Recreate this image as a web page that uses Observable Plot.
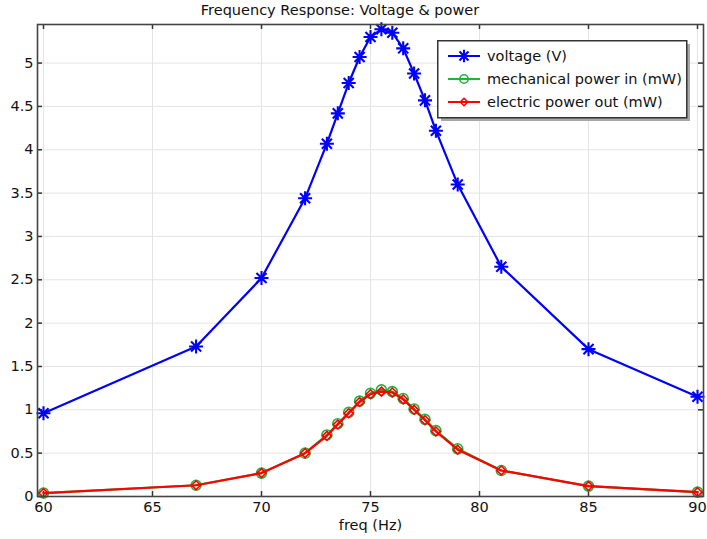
<!DOCTYPE html>
<html>
<head>
<meta charset="utf-8">
<script src="https://cdn.jsdelivr.net/npm/d3@7"></script>
<script src="https://cdn.jsdelivr.net/npm/@observablehq/plot@0.6"></script>
<style>
  html, body { margin: 0; padding: 0; background: #fff; }
  #wrap { position: relative; width: 707px; height: 539px; font-family: "DejaVu Sans", sans-serif; }
  #title { position: absolute; left: 0; top: 2px; width: 680px; text-align: center; font-size: 14.5px; color: #111; }
  #legend { position: absolute; left: 437px; top: 40px; }
</style>
</head>
<body>
<div id="wrap">
  <div id="chart"></div>
  <div id="title">Frequency Response: Voltage &amp; power</div>
  <div id="legend"></div>
</div>
<script>
const freq = [60, 67, 70, 72, 73, 73.5, 74, 74.5, 75, 75.5, 76, 76.5, 77, 77.5, 78, 79, 81, 85, 90];
const voltage = [0.96, 1.73, 2.52, 3.44, 4.07, 4.42, 4.77, 5.07, 5.30, 5.39, 5.35, 5.17, 4.88, 4.57, 4.22, 3.60, 2.65, 1.70, 1.15];
const mechPower = [0.04, 0.13, 0.27, 0.50, 0.71, 0.84, 0.97, 1.10, 1.19, 1.23, 1.21, 1.13, 1.01, 0.89, 0.76, 0.55, 0.30, 0.12, 0.05];
const elecPower = [0.04, 0.13, 0.27, 0.50, 0.70, 0.83, 0.96, 1.09, 1.18, 1.21, 1.20, 1.12, 1.00, 0.88, 0.75, 0.54, 0.30, 0.12, 0.05];
const xTicks = [60, 65, 70, 75, 80, 85, 90];
const yTicks = [0, 0.5, 1, 1.5, 2, 2.5, 3, 3.5, 4, 4.5, 5];
const seriesNames = ["voltage (V)", "mechanical power in (mW)", "electric power out (mW)"];
const colors = ["#0000ff", "#22b33a", "#ff0000"];

const W = 707, H = 539;
const mL = 37, mR = 4, mT = 24, mB = 43;
const innerH = H - mT - mB;
const innerW = W - mL - mR;
const FS = 14.5;

const star = {
  draw(ctx, size) {
    const r = Math.sqrt(size / Math.PI);
    const d = r * 0.72;
    ctx.moveTo(-r, 0); ctx.lineTo(r, 0);
    ctx.moveTo(0, -r); ctx.lineTo(0, r);
    ctx.moveTo(-d, -d); ctx.lineTo(d, d);
    ctx.moveTo(-d, d); ctx.lineTo(d, -d);
  }
};

const vData = freq.map((f, i) => ({f, v: voltage[i]}));
const mData = freq.map((f, i) => ({f, v: mechPower[i]}));
const eData = freq.map((f, i) => ({f, v: elecPower[i]}));

const chart = Plot.plot({
  width: W, height: H,
  marginLeft: mL, marginRight: mR, marginTop: mT, marginBottom: mB,
  style: {fontFamily: "DejaVu Sans, sans-serif", fontSize: FS + "px", color: "#111", background: "#fff"},
  x: {domain: [59.725, 90.275]},
  y: {domain: [0, 5.445]},
  marks: [
    Plot.gridX(xTicks, {stroke: "#e4e4e4", strokeOpacity: 1, strokeWidth: 1}),
    Plot.gridY(yTicks, {stroke: "#e4e4e4", strokeOpacity: 1, strokeWidth: 1}),
    Plot.axisX(xTicks, {tickSize: 0, tickPadding: 5, fontSize: FS, tickFormat: d3.format("~g"), label: "freq (Hz)", labelAnchor: "center", labelOffset: 33, labelArrow: "none"}),
    Plot.axisY(yTicks, {tickSize: 0, tickPadding: 4, fontSize: FS, tickFormat: d3.format("~g"), label: null}),
    Plot.tickX(xTicks, {x: d => d, insetTop: innerH - 5, stroke: "#333", strokeWidth: 1.5}),
    Plot.tickX(xTicks, {x: d => d, insetBottom: innerH - 5, stroke: "#333", strokeWidth: 1.5}),
    Plot.tickY(yTicks, {y: d => d, insetRight: innerW - 5, stroke: "#333", strokeWidth: 1.5}),
    Plot.tickY(yTicks, {y: d => d, insetLeft: innerW - 5, stroke: "#333", strokeWidth: 1.5}),
    Plot.line(vData, {x: "f", y: "v", stroke: colors[0], strokeWidth: 2.2}),
    Plot.dot(vData, {x: "f", y: "v", symbol: star, r: 7, stroke: colors[0], strokeWidth: 2.1, fill: "none"}),
    Plot.line(mData, {x: "f", y: "v", stroke: colors[1], strokeWidth: 2.2}),
    Plot.dot(mData, {x: "f", y: "v", symbol: "circle", r: 5, stroke: colors[1], strokeWidth: 1.6, fill: "none"}),
    Plot.line(eData, {x: "f", y: "v", stroke: colors[2], strokeWidth: 2.2}),
    Plot.dot(eData, {x: "f", y: "v", symbol: "diamond2", r: 4, stroke: colors[2], strokeWidth: 1.6, fill: "none"}),
    Plot.frame({stroke: "#444", strokeWidth: 1.6})
  ]
});
document.getElementById("chart").appendChild(chart);

// Legend
const lw = 256, lh = 84;
const leg = d3.select("#legend").append("svg").attr("width", lw).attr("height", lh)
  .style("font-family", "DejaVu Sans, sans-serif").style("font-size", FS + "px");
leg.append("rect").attr("x", 4).attr("y", 4).attr("width", 249).attr("height", 77).attr("fill", "#a8a8a8");
leg.append("rect").attr("x", 0.75).attr("y", 0.75).attr("width", 249).attr("height", 77).attr("fill", "#fff").attr("stroke", "#333").attr("stroke-width", 1.5);
const symbols = [star, d3.symbolCircle, d3.symbolDiamond2];
const symSizes = [Math.PI * 49, Math.PI * 25, Math.PI * 16];
const symSW = [2.1, 1.6, 1.6];
seriesNames.forEach((name, i) => {
  const y = 16 + i * 23;
  leg.append("line").attr("x1", 11).attr("x2", 43).attr("y1", y).attr("y2", y).attr("stroke", colors[i]).attr("stroke-width", 2);
  leg.append("path").attr("d", d3.symbol(symbols[i], symSizes[i] * (i === 0 ? 0.8 : 0.7))()).attr("transform", `translate(27,${y})`)
    .attr("fill", "none").attr("stroke", colors[i]).attr("stroke-width", symSW[i]);
  leg.append("text").attr("x", 50).attr("y", y).attr("dy", "0.35em").attr("fill", "#111").text(name);
});
</script>
</body>
</html>
